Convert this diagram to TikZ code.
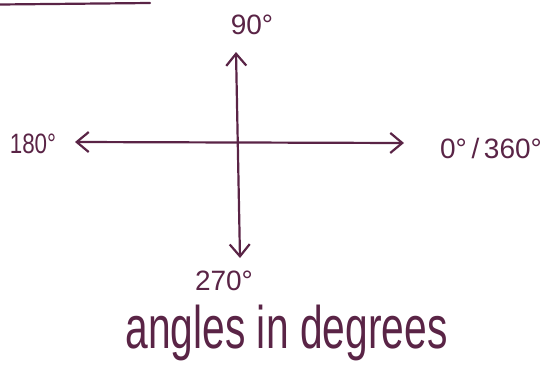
\documentclass[tikz,border=0pt]{standalone}
\usepackage{fontspec}
\setmainfont{Liberation Sans}
\usetikzlibrary{arrows.meta}
\definecolor{ink}{HTML}{5A2446}
\tikzset{
  ink line/.style={draw=ink, line width=2.2pt, line cap=round},
  axis/.style={ink line, {Straight Barb[length=12pt,width=20pt,line width=2.2pt]}-{Straight Barb[length=12pt,width=20pt,line width=2.2pt]}},
  lbl/.style={text=ink, inner sep=0pt, font=\fontsize{28}{30}\selectfont},
  title/.style={text=ink, inner sep=0pt, font=\fontsize{60}{64}\selectfont}
}
\begin{document}
\begin{tikzpicture}[x=1pt,y=-1pt]
  \useasboundingbox (0,0) rectangle (552,370);
  % top-left rule
  \coordinate (ra) at (0,4.5);
  \coordinate (rb) at (150,3);
  \draw[ink line] (ra) -- (rb);
  % axes
  \coordinate (w) at (75,142);
  \coordinate (e) at (404,143);
  \coordinate (n) at (236,52);
  \coordinate (s) at (240,258);
  \draw[axis] (w) -- (e);
  \draw[axis] (n) -- (s);
  % labels
  \node[lbl] (l90) at (252,25) {90°};
  \node[lbl] (l180) at (33,144) {\scalebox{0.8}[1]{180°}};
  \node[lbl] (l0) at (491,148) {0°\,/\,360°};
  \node[lbl] (l270) at (224,281) {270°};
  \node[title, anchor=base] (t) at (286.5,348) {\scalebox{0.68}[1]{angles in degrees}};
\end{tikzpicture}
\end{document}
